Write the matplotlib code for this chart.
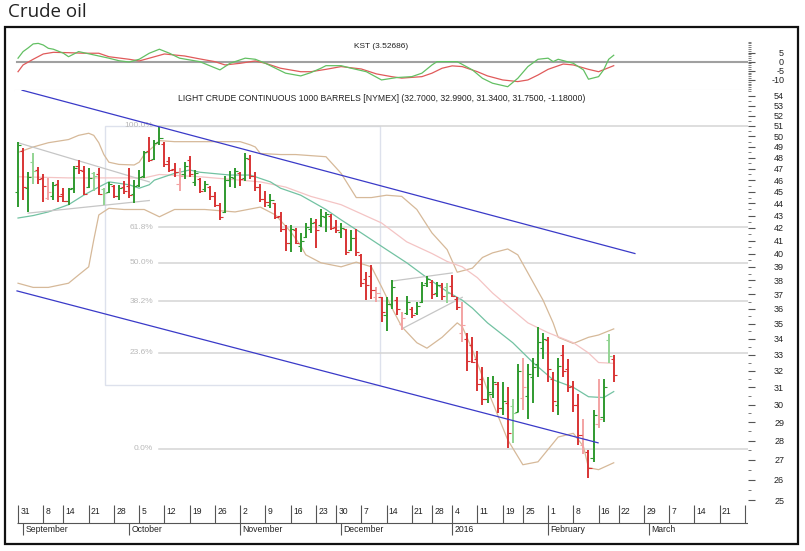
import matplotlib
matplotlib.use("Agg")
import matplotlib.pyplot as plt
import numpy as np
from matplotlib.collections import LineCollection
from matplotlib.patches import Rectangle
from matplotlib.ticker import FixedLocator, FixedFormatter, NullFormatter

plt.rcParams['font.family'] = ['Liberation Sans', 'DejaVu Sans']

# ---------------- data (trading-day index 0 = 31 Aug 2015) ----------------
opens = [
    45.0, 48.6, 45.3, 47.6, 46.9, 46.2, 44.5, 44.6, 45.7, 44.8,
    44.2, 45.3, 47.3, 46.8, 45.4, 46.6, 46.5, 45.2, 45.0, 45.5,
    44.6, 45.4, 45.5, 44.8, 45.6, 46.4, 48.6, 47.9, 49.5, 49.3,
    47.7, 47.0, 45.7, 46.5, 47.8, 45.8, 46.1, 45.2, 45.4, 44.6,
    43.9, 43.3, 46.0, 46.2, 46.6, 46.2, 47.9, 46.4, 45.4, 44.4,
    43.9, 44.0, 43.0, 41.9, 40.8, 41.8, 40.6, 41.3, 41.9, 42.5,
    42.2, 42.9, 43.0, 42.1, 41.7, 41.9, 40.3, 41.2, 39.9, 38.1,
    38.3, 36.8, 36.8, 35.6, 36.3, 36.6, 35.0, 35.7, 36.0, 35.7,
    36.5, 37.8, 37.9, 37.1, 37.7, 37.5, 37.6, 36.7, 34.4, 34.0,
    33.6, 32.7, 31.5, 30.3, 30.6, 31.2, 29.8, 30.1, 29.9, 29.6,
    30.4, 30.5, 31.6, 32.4, 33.4, 33.9, 31.5, 30.0, 33.0, 32.1,
    31.1, 30.0, 27.8, 27.4, 27.1, 28.9, 29.3, 33.9, 32.70]
highs = [
    49.5, 48.9, 46.7, 48.4, 47.2, 46.5, 46.2, 45.8, 46.0, 45.3,
    45.3, 47.3, 47.8, 47.3, 47.1, 46.7, 47.1, 45.3, 45.8, 45.6,
    45.6, 45.9, 47.1, 46.0, 46.9, 48.6, 49.9, 49.7, 50.9, 49.5,
    48.1, 47.5, 47.1, 47.6, 48.2, 46.9, 46.2, 45.9, 45.5, 45.0,
    44.0, 46.4, 46.8, 47.1, 46.7, 48.4, 48.3, 46.7, 45.7, 45.1,
    44.8, 44.0, 43.3, 42.2, 42.2, 42.0, 41.6, 42.4, 42.8, 42.7,
    43.5, 43.3, 43.1, 42.6, 42.4, 41.9, 41.8, 41.9, 40.0, 38.6,
    39.1, 37.5, 36.8, 36.8, 38.0, 36.8, 35.8, 36.9, 36.1, 36.5,
    37.9, 38.3, 38.0, 37.9, 37.8, 37.8, 38.4, 36.8, 36.5, 34.4,
    34.1, 33.2, 32.2, 31.6, 31.7, 31.3, 31.3, 31.0, 30.3, 32.4,
    32.8, 32.4, 32.8, 34.8, 34.4, 34.1, 31.9, 32.8, 33.6, 32.7,
    31.4, 30.6, 29.2, 27.5, 29.7, 31.5, 31.5, 34.3, 32.99]
lows = [
    43.7, 44.3, 43.3, 45.7, 45.7, 44.1, 44.3, 44.3, 44.1, 44.1,
    43.9, 44.9, 46.5, 44.7, 45.3, 45.1, 44.7, 43.9, 44.9, 44.5,
    44.3, 44.8, 44.5, 44.0, 45.4, 46.2, 47.6, 47.8, 49.2, 47.2,
    46.7, 46.3, 45.1, 46.1, 46.3, 45.5, 44.9, 45.0, 44.3, 43.7,
    42.6, 43.2, 45.4, 45.3, 45.5, 45.9, 46.1, 45.1, 44.1, 43.7,
    43.6, 42.7, 41.7, 40.2, 40.1, 40.7, 40.1, 41.2, 41.6, 40.4,
    42.1, 41.7, 41.8, 41.6, 41.2, 39.9, 40.2, 39.8, 37.5, 36.6,
    36.7, 36.5, 35.1, 34.5, 36.0, 35.6, 34.6, 35.6, 35.4, 35.6,
    36.4, 37.5, 36.7, 36.8, 36.6, 36.4, 36.8, 35.9, 33.8, 32.0,
    32.5, 30.8, 30.0, 30.1, 30.4, 29.5, 29.4, 27.6, 27.9, 29.6,
    29.7, 29.2, 30.1, 31.6, 32.7, 31.3, 29.6, 29.4, 31.6, 30.7,
    29.6, 27.8, 27.3, 26.1, 26.9, 28.7, 29.0, 32.5, 31.34]
closes = [
    49.2, 45.4, 46.3, 46.8, 46.1, 45.5, 45.0, 45.6, 44.6, 44.2,
    45.2, 47.1, 46.9, 44.8, 46.2, 46.4, 44.8, 44.9, 45.7, 44.6,
    45.3, 45.1, 44.7, 45.5, 46.3, 48.5, 47.8, 49.4, 49.8, 47.4,
    46.9, 46.7, 46.4, 47.3, 46.5, 46.6, 45.1, 45.7, 44.6, 43.9,
    42.9, 46.0, 46.3, 46.8, 46.1, 48.0, 46.4, 45.4, 44.4, 44.1,
    44.3, 42.9, 41.9, 40.8, 41.9, 40.8, 41.0, 42.1, 42.4, 41.8,
    43.0, 43.1, 42.0, 41.8, 42.0, 40.1, 41.2, 40.1, 37.8, 37.7,
    37.3, 37.1, 35.8, 36.3, 37.5, 36.0, 35.4, 36.5, 35.6, 36.2,
    37.7, 38.1, 37.0, 37.7, 36.9, 37.1, 36.9, 36.1, 34.9, 32.6,
    32.55, 31.2, 30.3, 30.7, 31.3, 29.8, 30.2, 28.4, 29.5, 32.0,
    31.0, 31.8, 32.2, 33.8, 34.0, 32.1, 30.2, 32.3, 32.0, 31.0,
    30.0, 28.3, 28.1, 26.6, 29.4, 29.2, 31.0, 32.93, 31.75]

# Bollinger bands / moving averages read at sample days
bb_up_day = [0, 3, 6, 10, 12, 14, 15, 16, 17, 18, 20, 23, 24, 25, 27, 28, 31, 38, 44, 46,
             47, 48, 52, 55, 61, 64, 67, 70, 73, 76, 79, 82, 85, 87, 90, 92, 94, 97, 99, 101,
             104, 106, 107, 110, 113, 115, 118]
bb_up_val = [48.5, 49.0, 49.4, 49.7, 50.1, 50.3, 50.1, 49.4, 48.3, 47.6, 47.4, 47.35, 47.6, 48.3, 49.1, 49.6, 49.5, 49.5, 49.5, 49.2,
             49.0, 48.4, 48.3, 48.3, 48.1, 46.6, 44.5, 44.5, 44.7, 44.6, 43.5, 41.6, 40.3, 38.6, 38.9, 39.7, 40.05, 40.35, 39.9, 38.55,
             36.6, 35.05, 34.1, 33.7, 34.1, 34.25, 34.65]
bb_lo_day = [0, 3, 6, 10, 12, 14, 15, 16, 18, 21, 25, 28, 31, 37, 43, 48, 51, 54, 56, 57,
             60, 64, 67, 70, 72, 74, 76, 79, 81, 84, 87, 88, 90, 93, 97, 100, 103, 107, 110, 112,
             113, 115, 118]
bb_lo_val = [37.8, 37.5, 37.5, 37.8, 38.4, 39.0, 41.05, 43.05, 43.6, 43.5, 43.5, 42.9, 43.5, 43.5, 43.3, 43.7, 43.05, 41.7, 40.6, 39.9,
             39.3, 39.0, 39.35, 39.0, 37.55, 36.1, 34.8, 33.75, 33.4, 34.1, 35.05, 34.8, 33.3, 30.85, 28.05, 26.75, 26.9, 28.2, 28.4, 27.7,
             26.6, 26.5, 26.85]
ma_short_day = [0, 3, 6, 10, 13, 16, 18, 22, 24, 26, 27, 31, 34, 36, 42, 46, 50, 52, 56, 61,
                64, 68, 73, 77, 81, 85, 88, 90, 93, 98, 102, 106, 110, 113, 116, 118]
ma_short_val = [42.8, 43.0, 43.3, 43.9, 44.7, 45.4, 45.85, 45.6, 45.3, 45.6, 46.0, 46.6, 46.9, 46.7, 46.45, 46.45, 45.85, 45.3, 44.7, 43.5,
                42.65, 41.6, 40.3, 39.3, 38.2, 37.2, 36.6, 36.05, 35.05, 33.75, 32.5, 31.45, 31.0, 30.45, 30.4, 30.75]
ma_long_day = [0, 10, 25, 28, 36, 48, 53, 58, 64, 72, 77, 82, 85, 88, 91, 94, 97, 101, 105, 110, 113, 115, 118]
ma_long_val = [46.3, 46.2, 46.2, 46.5, 46.3, 45.85, 45.4, 44.6, 43.9, 42.4, 40.9, 40.0, 39.4, 39.0, 38.2, 37.1, 36.2, 35.05, 34.4, 33.75, 33.1, 32.5, 32.45]

# KST indicator and its signal line
kst_day = [0, 1, 2, 3, 4, 5, 6, 7, 9, 10, 12, 15, 18, 20, 22, 24, 26, 28, 30, 32,
           36, 40, 42, 45, 47, 49, 53, 56, 58, 60, 61, 64, 66, 69, 72, 75, 78, 80, 82, 83,
           87, 90, 92, 94, 97, 99, 101, 103, 105, 106, 107, 110, 112, 113, 115, 116, 117, 118]
kst_val = [1.9, 5.5, 7.5, 9.7, 10.0, 9.1, 7.3, 6.8, 4.6, 2.7, 5.5, 3.7, 1.9, 0.5, -0.2, 1.3, 4.6, 6.8, 4.6, 1.9,
           0.0, -4.5, -0.9, 1.9, 1.3, -0.9, -6.3, -7.8, -6.0, -3.6, -2.2, -2.2, -3.6, -5.5, -10.0, -8.7, -8.2, -6.3, -1.8, 0.0,
           0.0, -4.5, -9.1, -11.8, -13.7, -9.1, -2.7, 1.3, 1.9, 0.0, 1.3, -0.9, -4.5, -9.6, -8.2, -4.5, 1.3, 3.5]
sig_day = [0, 1, 3, 5, 7, 10, 13, 16, 18, 22, 24, 26, 29, 33, 36, 39, 41, 44, 47, 49,
           52, 56, 58, 61, 64, 68, 71, 74, 76, 80, 82, 84, 86, 88, 91, 93, 96, 99, 101, 103,
           105, 108, 110, 113, 115, 118]
sig_val = [-5.5, -1.8, 1.3, 4.2, 5.1, 4.9, 4.6, 4.6, 2.7, 1.3, 0.4, 1.9, 4.2, 3.1, 1.5, 0.0, -1.8, -0.9, 0.4, -0.9,
           -3.6, -5.5, -5.5, -4.2, -2.7, -4.0, -6.7, -8.2, -9.0, -8.2, -6.3, -3.6, -2.3, -2.7, -5.5, -7.8, -10.0, -10.9, -10.0, -7.3,
           -4.2, -1.3, -1.8, -4.2, -5.5, -2.2]

# drawn trend lines (day, price pairs)
channel_upper = ([0.8, 122.2], [54.6, 40.0])
channel_lower = ([-0.2, 114.9], [37.25, 27.89])
triangle_upper = ([0, 26], [49.4, 45.85])
triangle_lower = ([2, 26], [43.2, 44.25])
flag_upper = ([74, 86], [37.95, 38.55])
flag_lower = ([76, 88], [34.65, 36.8])

# Fibonacci retracement
fib_high, fib_low = 51.0, 27.57
fib_ratios = [1.0, 0.618, 0.5, 0.382, 0.236, 0.0]
fib_labels = ['100.0%', '61.8%', '50.0%', '38.2%', '23.6%', '0.0%']
fib_box_days = (17.2, 71.7)
fib_box_bottom = 31.14

# axis labels
price_ticks = list(range(25, 55))
kst_ticks = [-10, -5, 0, 5]
week_day = [0, 5, 9, 14, 19, 24, 29, 34, 39, 44, 49, 54, 59, 63, 68, 73, 78, 82, 86, 91,
            96, 100, 105, 110, 115, 119, 124, 129, 134, 139, 144]
week_lbl = ['31', '8', '14', '21', '28', '5', '12', '19', '26', '2', '9', '16', '23', '30', '7', '14', '21', '28', '4', '11',
            '19', '25', '1', '8', '16', '22', '29', '7', '14', '21', '28']
month_day = [1, 22, 44, 64, 86, 105, 125]
month_lbl = ['September', 'October', 'November', 'December', '2016', 'February', 'March']

title_main = 'LIGHT CRUDE CONTINUOUS 1000 BARRELS [NYMEX] (32.7000, 32.9900, 31.3400, 31.7500, -1.18000)'
title_kst = 'KST (3.52686)'

# ---------------- styling ----------------
G_DARK, G_LIGHT = '#2f9a2f', '#93d493'
R_DARK, R_LIGHT = '#d83434', '#f3a3a3'
TAN, MA_S, MA_L = '#d6b999', '#72c2a2', '#f4c4c4'
BLUE = '#3a3ac8'
TXT = '#222222'

W, H = 805, 551
fig = plt.figure(figsize=(W / 100, H / 100), dpi=100)
fig.patch.set_facecolor('white')


def box(l, t, r, b):
    return [l / W, 1 - b / H, (r - l) / W, (b - t) / H]


XLIM = (-0.6, 144.6)
ax_k = fig.add_axes(box(15, 28, 748, 90))
ax_p = fig.add_axes(box(15, 90, 748, 510))
ax_x = fig.add_axes(box(15, 503, 748, 541))

# outer frame and title
fig.patches.append(Rectangle((5 / W, 1 - 544 / H), 793 / W, 517 / H, transform=fig.transFigure,
                             fill=False, ec='#111111', lw=1.6))
fig.text(8 / W, 1 - 12 / H, 'Crude oil', fontsize=13.5, family=['Open Sans', 'DejaVu Sans'],
         color='#222222', va='center', ha='left')

# ---------------- KST panel ----------------
ax_k.set_xlim(*XLIM)
ax_k.set_ylim(-15.5, 18.4)
ax_k.axhline(0, color='#a0a0a0', lw=1.5, xmin=0.003, zorder=1)
ax_k.plot(sig_day, sig_val, color='#e05a5a', lw=0.9, zorder=3)
ax_k.plot(kst_day, kst_val, color='#63c063', lw=0.9, zorder=4)
ax_k.text(0.5, 0.694, title_kst, transform=ax_k.transAxes, ha='center', va='center', fontsize=6, color=TXT)
for s in ['top', 'left', 'right']:
    ax_k.spines[s].set_visible(False)
ax_k.spines['bottom'].set_color('#e2e2e2')
ax_k.set_xticks([])
ax_k.yaxis.tick_right()
ax_k.yaxis.set_major_locator(FixedLocator(kst_ticks))
ax_k.yaxis.set_major_formatter(FixedFormatter([str(v) for v in kst_ticks]))
ax_k.yaxis.set_minor_locator(FixedLocator(list(range(-15, 12))))
ax_k.yaxis.set_minor_formatter(NullFormatter())
ax_k.tick_params(axis='y', which='major', length=5, width=0.8, color='#555555', labelsize=6.5,
                 labelcolor=TXT, pad=21)
ax_k.tick_params(axis='y', which='minor', length=2.5, width=0.6, color='#666666')
for lab in ax_k.get_yticklabels():
    lab.set_horizontalalignment('right')

# ---------------- price panel ----------------
ax_p.set_yscale('log')
ax_p.set_xlim(*XLIM)
ax_p.set_ylim(24.54, 54.62)
for s in ax_p.spines.values():
    s.set_visible(False)
ax_p.set_xticks([])
ax_p.yaxis.tick_right()
ax_p.yaxis.set_major_locator(FixedLocator(price_ticks))
ax_p.yaxis.set_major_formatter(FixedFormatter([str(v) for v in price_ticks]))
ax_p.yaxis.set_minor_locator(FixedLocator([v + 0.5 for v in range(24, 55)]))
ax_p.yaxis.set_minor_formatter(NullFormatter())
ax_p.tick_params(axis='y', which='major', length=5, width=0.8, color='#555555', labelsize=6.5,
                 labelcolor=TXT, pad=21)
ax_p.tick_params(axis='y', which='minor', length=2.5, width=0.6, color='#666666')
for lab in ax_p.get_yticklabels():
    lab.set_horizontalalignment('right')

ax_p.text(0.5, 0.979, title_main, transform=ax_p.transAxes, ha='center', va='center', fontsize=6.2, color=TXT)

# Fibonacci tool
ax_p.add_patch(Rectangle((fib_box_days[0], fib_box_bottom), fib_box_days[1] - fib_box_days[0],
                         fib_high - fib_box_bottom, fill=False, ec='#dde1ec', lw=1.0, zorder=1))
for r, lab in zip(fib_ratios, fib_labels):
    lvl = fib_low + r * (fib_high - fib_low)
    ax_p.plot([28, XLIM[1]], [lvl, lvl], color='#d4d4d4', lw=1.1, zorder=1)
    ax_p.text(26.8, lvl, lab, ha='right', va='center', fontsize=6, color='#b9b9b9', zorder=1)

# bands & averages
ax_p.plot(bb_up_day, bb_up_val, color=TAN, lw=0.9, zorder=2)
ax_p.plot(bb_lo_day, bb_lo_val, color=TAN, lw=0.9, zorder=2)
ax_p.plot(ma_long_day, ma_long_val, color=MA_L, lw=0.9, zorder=2)
ax_p.plot(ma_short_day, ma_short_val, color=MA_S, lw=0.9, zorder=2)

# grey trend lines
for xs, ys in (triangle_upper, triangle_lower, flag_upper, flag_lower):
    ax_p.plot(xs, ys, color='#c6c6c6', lw=0.9, zorder=2)

# OHLC bars
n = len(closes)
colors = []
for i in range(n):
    prev = closes[i - 1] if i > 0 else opens[i]
    up = closes[i] >= prev
    solid = (closes[i] >= opens[i]) == up
    if up:
        colors.append(G_DARK if solid else G_LIGHT)
    else:
        colors.append(R_DARK if solid else R_LIGHT)
seg_v = [[(i, lows[i]), (i, highs[i])] for i in range(n)]
seg_o = [[(i - 0.62, opens[i]), (i, opens[i])] for i in range(n)]
seg_c = [[(i, closes[i]), (i + 0.62, closes[i])] for i in range(n)]
ax_p.add_collection(LineCollection(seg_v, colors=colors, linewidths=1.4, zorder=4))
ax_p.add_collection(LineCollection(seg_o, colors=colors, linewidths=0.8, zorder=4))
ax_p.add_collection(LineCollection(seg_c, colors=colors, linewidths=0.8, zorder=4))

# channel lines
ax_p.plot(*channel_upper, color=BLUE, lw=0.9, zorder=5)
ax_p.plot(*channel_lower, color=BLUE, lw=0.9, zorder=5)

# ---------------- date axis strip ----------------
ax_x.set_xlim(*XLIM)
ax_x.set_ylim(541, 503)
ax_x.axis('off')
ax_x.hlines(523, -0.3, XLIM[1], color='#555555', lw=0.8)
ax_x.vlines(week_day, 505, 523, color='#555555', lw=0.8)
ax_x.vlines(month_day, 523, 535, color='#555555', lw=0.8)
for d, lab in zip(week_day, week_lbl):
    ax_x.text(d + 0.45, 512, lab, ha='left', va='center', fontsize=6.2, color=TXT, clip_on=True)
for d, lab in zip(month_day, month_lbl):
    ax_x.text(d + 0.45, 529.5, lab, ha='left', va='center', fontsize=6.2, color=TXT, clip_on=True)

fig.savefig('out.png', dpi=100, facecolor='white')
